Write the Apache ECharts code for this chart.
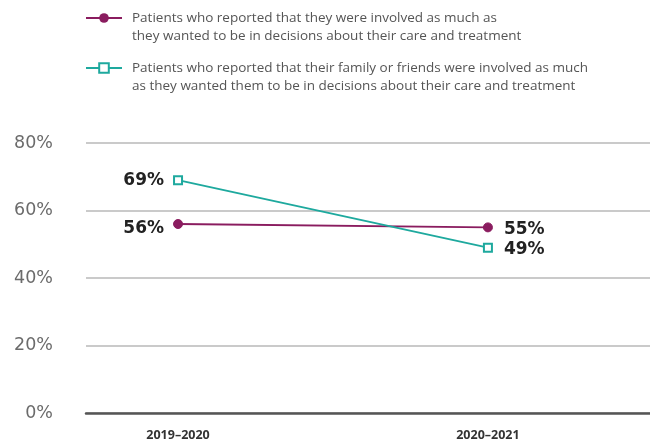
<!DOCTYPE html>
<html><head><meta charset="utf-8">
<script src="https://cdn.jsdelivr.net/npm/echarts@6/dist/echarts.min.js"></script>
<style>html,body{margin:0;padding:0;background:#fff}#c{width:650px;height:444px}</style>
</head><body><div id="c"></div>
<script>
const categories = ['2019\u20132020', '2020\u20132021'];
const involvedSelf = [56, 55];
const involvedFamily = [69, 49];
const yTicks = [0, 20, 40, 60, 80];
const seriesNames = [
  'Patients who reported that they were involved as much as\nthey wanted to be in decisions about their care and treatment',
  'Patients who reported that their family or friends were involved as much\nas they wanted them to be in decisions about their care and treatment'
];

const FONT = '"Open Sans", sans-serif';
const NUMFONT = '"DejaVu Sans", sans-serif';
const purple = '#8a1c5f';
const teal = '#1ea99e';
const chart = echarts.init(document.getElementById('c'));

function pts(arr) {
  return arr.map((v, i) => ({
    value: [i, v],
    label: i === arr.length - 1 ? { position: 'right', distance: 11, offset: [0, 2] } : {}
  }));
}

chart.setOption({
  animation: false,
  textStyle: { fontFamily: FONT },
  grid: { left: 86, right: 0, top: 143, bottom: 31 },
  legend: {
    orient: 'vertical', left: 85, top: -9, itemGap: -4, padding: 0,
    itemWidth: 36, itemHeight: 12,
    formatter: name => '\n' + name,
    textStyle: { fontFamily: FONT, fontSize: 13.5, color: '#555', lineHeight: 18, padding: [0, 0, 0, 5] },
    data: seriesNames
  },
  xAxis: {
    type: 'value', min: -0.297, max: 1.523,
    splitLine: { show: false },
    axisLine: { show: true, onZero: false, lineStyle: { color: '#555', width: 2.5 } },
    axisTick: { show: false },
    axisLabel: {
      customValues: [0, 1], margin: 16,
      formatter: v => categories[Math.round(v)] || '',
      fontFamily: FONT, fontSize: 12.5, fontWeight: 'bold', color: '#333'
    }
  },
  yAxis: {
    type: 'value', min: yTicks[0], max: yTicks[yTicks.length - 1], interval: 20,
    axisLine: { show: false }, axisTick: { show: false },
    splitLine: { lineStyle: { color: '#b8b8b8', width: 1.5 } },
    axisLabel: { formatter: '{value}%', margin: 33, fontFamily: NUMFONT, fontSize: 17.5, color: '#6b6b6b' }
  },
  series: [
    {
      name: seriesNames[0], type: 'line', data: pts(involvedSelf),
      symbol: 'circle', symbolSize: 9,
      lineStyle: { color: purple, width: 2 },
      itemStyle: { color: purple, borderColor: purple },
      label: {
        show: true, formatter: p => p.value[1] + '%',
        fontFamily: NUMFONT, fontSize: 17, fontWeight: 'bold', color: '#222',
        position: 'left', distance: 9, offset: [0, 5]
      },
      z: 3
    },
    {
      name: seriesNames[1], type: 'line', data: pts(involvedFamily),
      symbol: 'rect', symbolSize: 8,
      lineStyle: { color: teal, width: 2 },
      itemStyle: { color: '#fff', borderColor: teal, borderWidth: 2 },
      label: {
        show: true, formatter: p => p.value[1] + '%',
        fontFamily: NUMFONT, fontSize: 17, fontWeight: 'bold', color: '#222',
        position: 'left', distance: 9
      },
      z: 4
    }
  ]
});
</script></body></html>
